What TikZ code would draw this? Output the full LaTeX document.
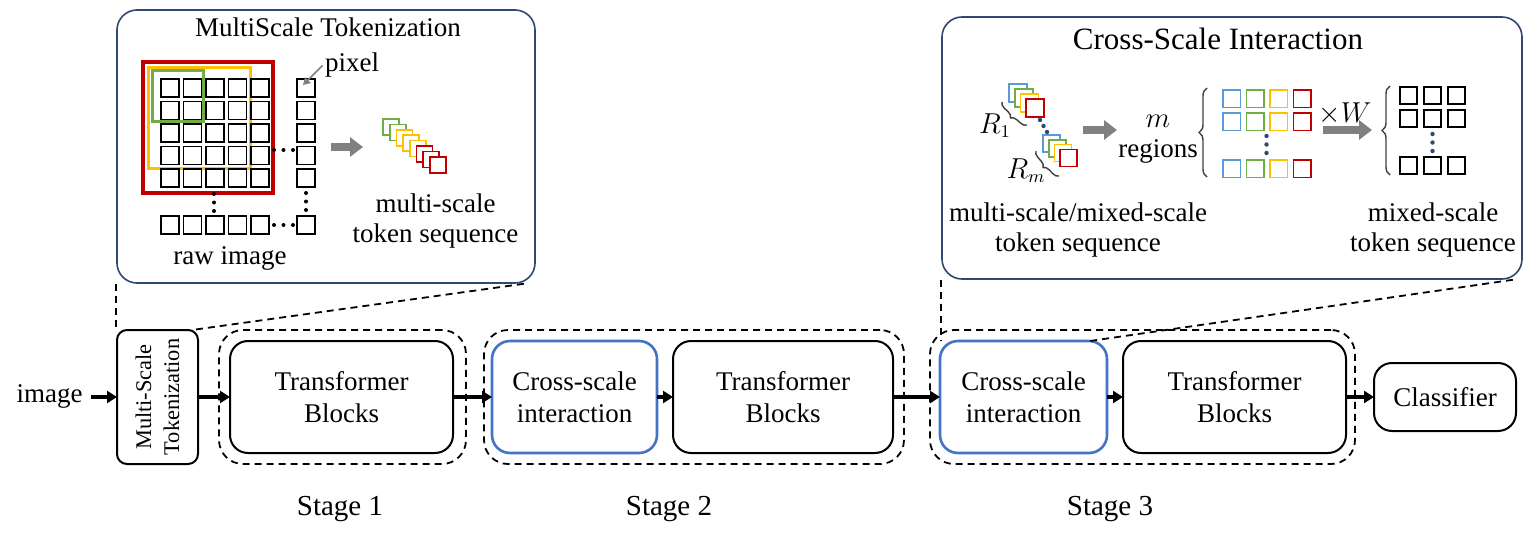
\documentclass[tikz,border=0pt]{standalone}
\usepackage{fontspec}
\setmainfont{Liberation Serif}
\usetikzlibrary{arrows.meta,decorations.pathreplacing}
\definecolor{navy}{RGB}{47,72,110}
\definecolor{csblue}{RGB}{68,114,196}
\definecolor{tkblue}{RGB}{91,155,213}
\definecolor{tkgreen}{RGB}{112,173,71}
\definecolor{tkyellow}{RGB}{255,192,0}
\definecolor{tkred}{RGB}{192,0,0}
\definecolor{arrgray}{RGB}{128,128,128}
\tikzset{
  txt/.style={font=\fontsize{13.5pt}{15pt}\selectfont,inner sep=1pt},
  blk/.style={draw,line width=1pt,rounded corners=9pt,minimum height=56pt,inner sep=0pt,outer sep=0pt,align=center,font=\fontsize{13.5pt}{16pt}\selectfont},
  csblk/.style={blk,draw=csblue,line width=1.3pt},
  stagebox/.style={draw,dash pattern=on 3.5pt off 2.5pt,line width=0.9pt,rounded corners=12pt,minimum height=67pt,inner sep=0pt},
  zoombox/.style={draw=navy,line width=0.8pt,rounded corners=10pt,inner sep=0pt},
  zoomline/.style={dash pattern=on 3.5pt off 2.5pt,line width=0.9pt},
  arr/.style={line width=1.6pt,-{Triangle[length=5pt,width=6pt]}},
  fat/.style={draw=arrgray,line width=4pt,-{Triangle[length=6.5pt,width=9.5pt]}},
  pxsq/.style={line width=0.9pt},
  tok/.style={fill=white,line width=0.8pt},
  cbrace/.style={decorate,black!75,line width=0.7pt},
}
\begin{document}
\begin{tikzpicture}[x=0.5pt,y=-0.5pt]
\useasboundingbox (0,0) rectangle (1536,535);
% --- bottom pipeline
\node[txt,anchor=base] (img) at (49.5,402) {image};
\node[blk,minimum width=40.5pt,minimum height=67pt,rounded corners=5pt] (mst) at (157.5,397) {};
\node[rotate=90,align=center,font=\fontsize{11.2pt}{14pt}\selectfont] (msttxt) at (mst.center) {Multi-Scale\\Tokenization};
\node[stagebox,minimum width=123.5pt] (st1) at (342.5,397) {};
\node[stagebox,minimum width=210pt] (st2) at (694,397) {};
\node[stagebox,minimum width=212.5pt] (st3) at (1142.5,397) {};
\node[blk,minimum width=111.5pt] (tb1) at (341.5,397) {Transformer\\Blocks};
\node[csblk,minimum width=82.5pt] (cs1) at (574.5,397) {Cross-scale\\interaction};
\node[blk,minimum width=110pt] (tb2) at (783,397) {Transformer\\Blocks};
\node[csblk,minimum width=83.5pt] (cs2) at (1023.5,397) {Cross-scale\\interaction};
\node[blk,minimum width=111.5pt] (tb3) at (1234.5,397) {Transformer\\Blocks};
\node[blk,minimum width=71pt,minimum height=34pt] (cls) at (1445,397) {Classifier};
\draw[arr,shorten <=3pt] (img.east |- mst.west) -- (mst.west);
\draw[arr] (mst) -- (tb1); \draw[arr] (tb1) -- (cs1); \draw[arr] (cs1) -- (tb2);
\draw[arr] (tb2) -- (cs2); \draw[arr] (cs2) -- (tb3); \draw[arr] (tb3) -- (cls);
\node[txt,anchor=base,font=\fontsize{14.5pt}{16pt}\selectfont] (s1) at (340,515) {Stage 1};
\node[txt,anchor=base,font=\fontsize{14.5pt}{16pt}\selectfont] (s2) at (669,515) {Stage 2};
\node[txt,anchor=base,font=\fontsize{14.5pt}{16pt}\selectfont] (s3) at (1110,515) {Stage 3};
% --- multi-scale tokenization panel
\node[zoombox,minimum width=209pt,minimum height=136.5pt] (lbox) at (326,146.5) {};
\node[txt,anchor=base,font=\fontsize{13.5pt}{15pt}\selectfont] (ltitle) at (328,37) {MultiScale Tokenization};
\draw[tkred,line width=2pt] (143,62) rectangle (273,193);
\draw[tkyellow,line width=1.5pt] (148,68) rectangle (250,168);
\draw[tkgreen,line width=1.5pt] (152,71) rectangle (203,122);
\foreach \i in {0,...,4}{\foreach \j in {0,...,4}{\draw[pxsq] ({161+22.5*\i},{79+22.5*\j}) rectangle +(18,18);}}
\foreach \j in {0,...,4}{\draw[pxsq] (297,{79+22.5*\j}) rectangle +(18,18);}
\foreach \i in {0,...,4}{\draw[pxsq] ({161+22.5*\i},216) rectangle +(18,18);}
\draw[pxsq] (297,216) rectangle +(18,18);
\foreach \k in {0,1,2}{\fill ({274+9.5*\k},150) circle (1pt); \fill ({274+9.5*\k},225) circle (1pt);
  \fill (214,{194+8.5*\k}) circle (1pt); \fill (306,{193+8.5*\k}) circle (1pt);}
\node[txt,anchor=base] (pixel) at (352,72) {pixel};
\coordinate (pxtip) at (303,85);
\draw[arrgray,line width=0.8pt,-{Triangle[length=3.5pt,width=4pt]}] (pixel.west) -- (pxtip);
\node[txt,anchor=base] (raw) at (230,264) {raw image};
\coordinate (fa1) at (331,147); \coordinate (fb1) at (363,147);
\draw[fat] (fa1) -- (fb1);
\foreach \c [count=\k from 0] in {tkgreen,tkgreen,tkyellow,tkyellow,tkyellow,tkred,tkred,tkred}
  {\draw[tok,draw=\c] ({383+6.7*\k},{119+5.4*\k}) rectangle +(16,16);}
\node[txt,align=center] (mstok) at (435.5,221) {multi-scale\\token sequence};
% --- cross-scale interaction panel
\node[zoombox,minimum width=290pt,minimum height=131pt] (rbox) at (1232,148) {};
\node[txt,anchor=base,font=\fontsize{15.5pt}{17pt}\selectfont] (rtitle) at (1218,50) {Cross-Scale Interaction};
\foreach \c [count=\k from 0] in {tkblue,tkgreen,tkyellow,tkred}{
  \draw[tok,draw=\c] ({1009+5.7*\k},{84+5*\k}) rectangle +(18,18);
  \draw[tok,draw=\c] ({1043+5.7*\k},{135+4.8*\k}) rectangle +(17,17);}
\foreach \k in {0,1,2}{\fill[navy] ({1040+3.5*\k},{120+6*\k}) circle (1.1pt);}
\draw[cbrace,decoration={brace,amplitude=3pt}] (1027,125) -- (1002,102);
\draw[cbrace,decoration={brace,amplitude=3pt}] (1059,176) -- (1036,151);
\node[txt] (r1) at (995,126) {$R_1$};
\node[txt] (rm) at (1026,171) {$R_m$};
\coordinate (fa2) at (1083,130); \coordinate (fb2) at (1117,130);
\draw[fat] (fa2) -- (fb2);
\node[txt,align=center] (mreg) at (1158,139) {$m$\\regions};
\draw[cbrace,decoration={brace,amplitude=4pt}] (1207,177) -- (1207,88);
\foreach \c [count=\k from 0] in {tkblue,tkgreen,tkyellow,tkred}{
  \foreach \y in {90,113,160}{\draw[tok,draw=\c] ({1223+23.5*\k},\y) rectangle +(17.5,17.5);}}
\foreach \k in {0,1,2}{\fill[navy] (1266.5,{136+8.5*\k}) circle (1.1pt); \fill[navy] (1432.5,{134+8.5*\k}) circle (1.1pt);}
\coordinate (fa3) at (1323,130); \coordinate (fb3) at (1372,130);
\draw[fat] (fa3) -- (fb3);
\node[txt,anchor=base] (xw) at (1345,123) {$\times W$};
\draw[cbrace,decoration={brace,amplitude=4pt}] (1390,175) -- (1390,86);
\foreach \i in {0,1,2}{\foreach \y in {87,110,157}{\draw[pxsq] ({1400+24*\i},\y) rectangle +(17,17);}}
\node[txt,align=center] (mxtok) at (1078,230) {multi-scale/mixed-scale\\token sequence};
\node[txt,align=center] (mixtok) at (1433,230) {mixed-scale\\token sequence};
% --- zoom lines
\draw[zoomline] (lbox.south west) -- (lbox.south west |- mst.north);
\draw[zoomline] ([xshift=-6pt]lbox.south east) -- ([xshift=-3pt]mst.north east);
\draw[zoomline] (rbox.south west) -- (rbox.south west |- cs2.north);
\draw[zoomline] ([xshift=-5pt]rbox.south east) -- ([xshift=-8.5pt]cs2.north east);
\end{tikzpicture}
\end{document}
